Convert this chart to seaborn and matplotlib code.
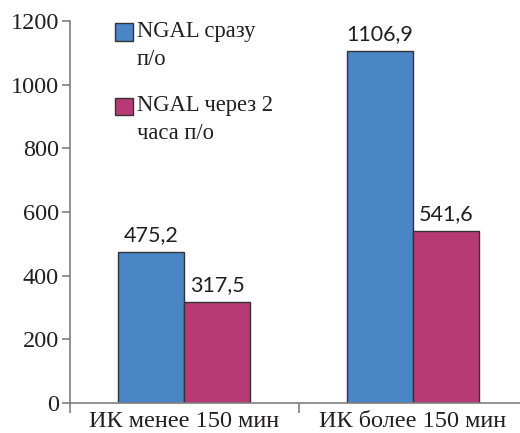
import matplotlib
matplotlib.use("Agg")
import matplotlib.pyplot as plt
from matplotlib.patches import Rectangle
from matplotlib.legend_handler import HandlerPatch
import seaborn as sns
import pandas as pd

categories = ["ИК менее 150 мин", "ИК более 150 мин"]
series = ["NGAL сразу\nп/о", "NGAL через 2\nчаса п/о"]
values_immediate = [475.2, 1106.9]
values_2h = [317.5, 541.6]
y_ticks = [0, 200, 400, 600, 800, 1000, 1200]

colors = ["#4A86C5", "#B73A74"]
axis_color = "#7f7f7f"
text_color = "#231f20"
serif = ["Liberation Serif", "DejaVu Serif"]

df = pd.DataFrame({
    "group": categories * 2,
    "series": [series[0]] * 2 + [series[1]] * 2,
    "value": values_immediate + values_2h,
})

sns.set_style("white")
plt.rcParams["font.family"] = serif

fig = plt.figure(figsize=(5.2, 4.33), dpi=100)
ax = fig.add_axes([70 / 520, 30 / 433, 457 / 520, 382 / 433])

sns.barplot(data=df, x="group", y="value", hue="series", order=categories,
            hue_order=series, palette=colors, width=0.578, saturation=1,
            edgecolor="#333333", linewidth=1.0, errorbar=None, ax=ax)

for cont in ax.containers:
    ax.bar_label(cont, labels=[f"{v:.1f}".replace(".", ",") for v in cont.datavalues],
                 padding=5, fontsize=15.5, family="Lato", color=text_color)

ax.set_xlim(-0.5, 1.5)
ax.set_ylim(0, 1200)
ax.set_yticks(y_ticks, labels=[str(v) for v in y_ticks],
              fontfamily=serif, fontsize=17.5, color=text_color)
ax.set_xticks(range(len(categories)), labels=categories,
              fontfamily=serif, fontsize=17.5, color=text_color)
ax.set_xlabel("")
ax.set_ylabel("")

for side in ["top", "right"]:
    ax.spines[side].set_visible(False)
for side in ["left", "bottom"]:
    ax.spines[side].set_color(axis_color)
    ax.spines[side].set_linewidth(1.2)

ax.tick_params(axis="y", which="major", direction="out", length=6, width=1.2,
               color=axis_color, pad=2, left=True)
ax.tick_params(axis="x", which="major", length=0, pad=6)
ax.set_xticks([-0.5, 0.5, 1.5], minor=True)
ax.tick_params(axis="x", which="minor", direction="out", length=7, width=1.2,
               color=axis_color, bottom=True)


class TopAlignedPatch(HandlerPatch):
    """Square legend key aligned with the first line of a two-line label."""

    def __init__(self, shift, **kw):
        super().__init__(**kw)
        self.shift = shift

    def create_artists(self, legend, orig_handle, xdescent, ydescent,
                       width, height, fontsize, trans):
        p = Rectangle((-xdescent, -ydescent + self.shift * fontsize), width, height,
                      facecolor=orig_handle.get_facecolor(),
                      edgecolor="#333333", linewidth=1.0, transform=trans)
        return [p]


handles, labels = ax.get_legend_handles_labels()
leg = ax.legend(handles, labels, loc="upper left", bbox_to_anchor=(0.098, 1.0),
                frameon=False, prop={"family": serif, "size": 16.3},
                handlelength=0.8, handleheight=0.8, handletextpad=0.18,
                labelspacing=1.1, borderpad=0, borderaxespad=0,
                handler_map={h: TopAlignedPatch(0.6) for h in handles})
for t in leg.get_texts():
    t.set_color(text_color)
    t.set_linespacing(1.45)

fig.savefig("out.png", dpi=100)
